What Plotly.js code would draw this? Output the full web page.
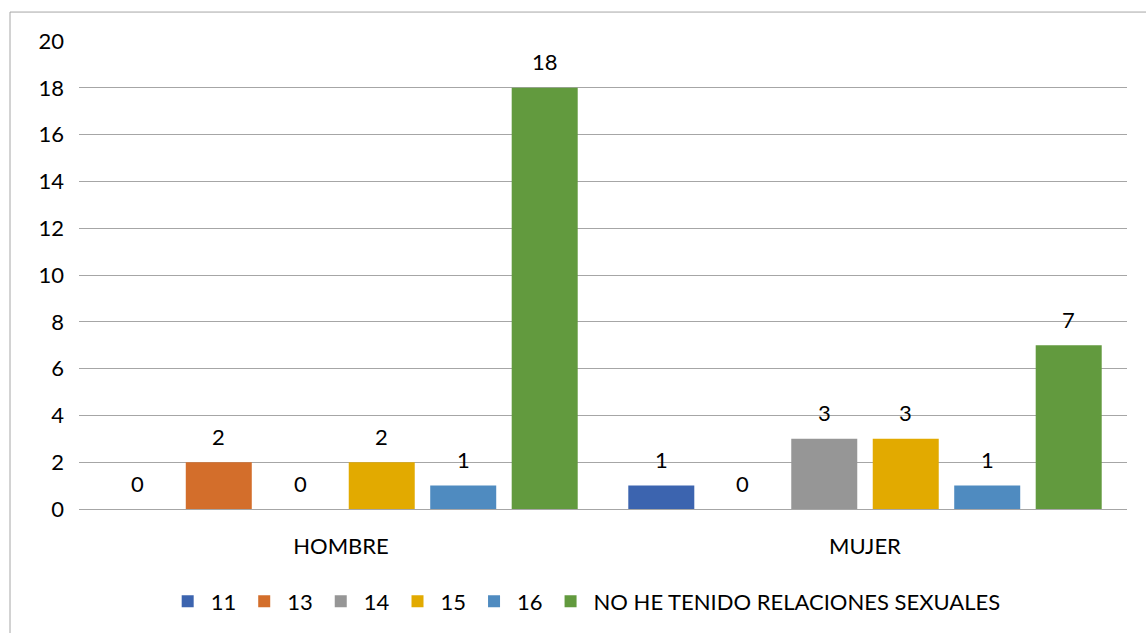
<!DOCTYPE html>
<html>
<head>
<meta charset="utf-8">
<script src="https://cdn.plot.ly/plotly-3.0.1.min.js"></script>
<style>html,body{margin:0;padding:0;background:#fff;}#chart{width:1146px;height:633px;}</style>
</head>
<body>
<div id="chart"></div>
<script>
var categories = ["HOMBRE", "MUJER"];
var seriesNames = ["11", "13", "14", "15", "16", "NO HE TENIDO RELACIONES SEXUALES"];
var values11 = [0, 1];
var values13 = [2, 0];
var values14 = [0, 3];
var values15 = [2, 3];
var values16 = [1, 1];
var valuesNo = [18, 7];
var yTicks = [0, 2, 4, 6, 8, 10, 12, 14, 16, 18, 20];

var seriesValues = [values11, values13, values14, values15, values16, valuesNo];
var colors = ["#3C64AF", "#D36E2B", "#969696", "#E2AA00", "#4F8BC0", "#629A3E"];
var FONT = "Lato, 'Noto Sans', sans-serif";
var FS = 22;

var W = 1146, H = 633;
var M = {l: 79, r: 19, t: 41, b: 123};
var BARGAP = 0.067;
var plotW = W - M.l - M.r;
var slotPx = plotW / categories.length * (1 - BARGAP) / seriesNames.length;

var traces = seriesNames.map(function (name, i) {
  return {
    type: "bar",
    name: name,
    x: categories,
    y: seriesValues[i],
    marker: {color: colors[i]},
    hoverinfo: "skip"
  };
});

var annotations = [];
seriesNames.forEach(function (name, i) {
  categories.forEach(function (cat, j) {
    annotations.push({
      xref: "x", yref: "y",
      x: cat, y: seriesValues[i][j],
      text: String(seriesValues[i][j]),
      showarrow: false,
      xanchor: "center", yanchor: "middle",
      xshift: (i - (seriesNames.length - 1) / 2) * slotPx,
      yshift: 26,
      font: {family: FONT, size: FS, color: "#000"}
    });
  });
});

var layout = {
  width: W,
  height: H,
  margin: M,
  paper_bgcolor: "#fff",
  plot_bgcolor: "#fff",
  barmode: "group",
  bargap: BARGAP,
  bargroupgap: 0.19,
  font: {family: FONT, size: FS, color: "#000"},
  showlegend: true,
  legend: {
    orientation: "h",
    x: 0.483, xanchor: "center",
    y: -0.195, yanchor: "middle",
    itemwidth: 36,
    font: {family: FONT, size: FS, color: "#000"},
    traceorder: "normal"
  },
  xaxis: {
    type: "category",
    showgrid: false,
    showline: false,
    ticks: "",
    ticklabelstandoff: 22,
    tickfont: {family: FONT, size: FS, color: "#000"},
    automargin: false
  },
  yaxis: {
    range: [0, 20],
    tickmode: "array",
    tickvals: yTicks,
    ticktext: yTicks.map(String),
    showgrid: true,
    gridcolor: "#A6A6A6",
    gridwidth: 1,
    zeroline: true,
    zerolinecolor: "#A6A6A6",
    zerolinewidth: 1,
    showline: false,
    ticks: "",
    ticklabelstandoff: 14,
    tickfont: {family: FONT, size: FS, color: "#000"},
    automargin: false
  },
  annotations: annotations,
  shapes: [{
    type: "rect",
    xref: "paper", yref: "paper",
    x0: -69 / plotW, x1: 1.2,
    y0: -0.5, y1: 1 + 29 / (H - M.t - M.b),
    line: {color: "#A6A6A6", width: 1},
    fillcolor: "rgba(0,0,0,0)",
    layer: "below"
  }]
};

Plotly.newPlot("chart", traces, layout, {staticPlot: true, displayModeBar: false});
</script>
</body>
</html>
